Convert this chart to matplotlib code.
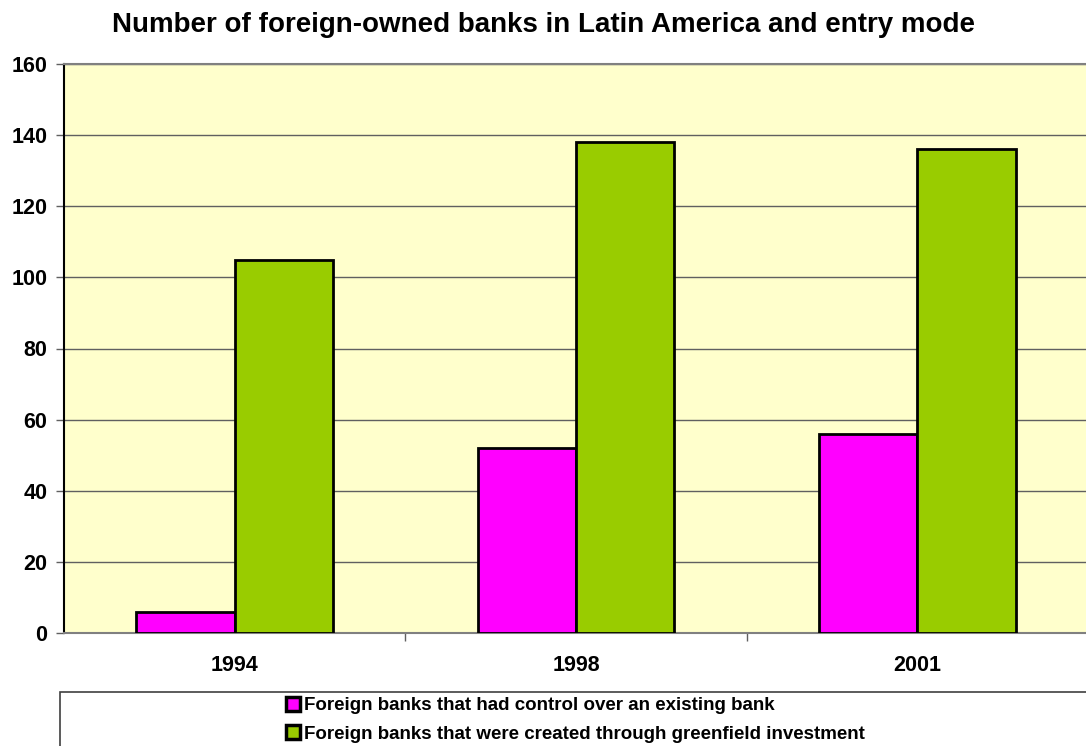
import matplotlib
matplotlib.use("Agg")
import matplotlib.pyplot as plt
import numpy as np
from matplotlib.patches import Rectangle

# ---------------------------------------------------------------------------
# Data
# ---------------------------------------------------------------------------
years = ["1994", "1998", "2001"]
control_existing = [6, 52, 56]
greenfield = [105, 138, 136]
series_labels = [
    "Foreign banks that had control over an existing bank",
    "Foreign banks that were created through greenfield investment",
]
y_ticks = [0, 20, 40, 60, 80, 100, 120, 140, 160]

plt.rcParams["font.family"] = ["Liberation Sans", "DejaVu Sans"]
plt.rcParams["font.weight"] = "bold"

fig = plt.figure(figsize=(10.86, 7.46), dpi=100)
ax = fig.add_axes([64 / 1086, 113 / 746, 1 - 64 / 1086 + 0.002, (633 - 64) / 746])
ax.set_facecolor("#FFFFCC")

x = np.arange(len(years))
width = 0.288
b1 = ax.bar(x - width / 2, control_existing, width=width, color="#FF00FF",
            edgecolor="black", linewidth=2.0, label=series_labels[0], zorder=3)
b2 = ax.bar(x + width / 2, greenfield, width=width, color="#99CC00",
            edgecolor="black", linewidth=2.0, label=series_labels[1], zorder=3)

ax.set_xlim(-0.5, len(years) - 0.5)
ax.set_ylim(0, 160)
ax.set_yticks(y_ticks)
ax.set_yticklabels([str(v) for v in y_ticks], fontsize=15.5, fontweight="bold")
ax.yaxis.grid(True, color="#606060", linewidth=1.0, zorder=0)
ax.set_axisbelow(True)

ax.set_xticks(x)
ax.set_xticklabels(years, fontsize=15.5, fontweight="bold")
ax.tick_params(axis="x", which="major", length=0, pad=16)
ax.set_xticks(np.arange(0.5, len(years) - 0.5, 1.0), minor=True)
ax.tick_params(axis="x", which="minor", length=6, color="#606060", width=1)
ax.tick_params(axis="y", length=6, width=1, color="#606060", pad=6)

ax.spines["top"].set_color("#808080")
ax.spines["top"].set_linewidth(1.5)
ax.spines["right"].set_visible(False)
ax.spines["left"].set_color("black")
ax.spines["left"].set_linewidth(1.5)
ax.spines["bottom"].set_color("#808080")
ax.spines["bottom"].set_linewidth(1.5)

fig.text(0.5, 1 - 25 / 746, "Number of foreign-owned banks in Latin America and entry mode",
         ha="center", va="center", fontsize=20, fontweight="bold")

# legend box
fig.patches.append(Rectangle((60 / 1086, -0.01), 1.0, (746 - 692) / 746 + 0.01,
                             transform=fig.transFigure, facecolor="white",
                             edgecolor="#404040", linewidth=1.2))
leg = fig.legend(handles=[b1, b2], loc="upper left",
                 bbox_to_anchor=(286 / 1086, 1 - 697 / 746), frameon=False,
                 fontsize=13.5, handlelength=0.75, handleheight=0.75,
                 handletextpad=0.2, labelspacing=0.58, borderaxespad=0,
                 borderpad=0)
for t in leg.get_texts():
    t.set_fontweight("bold")
for h in leg.legend_handles:
    h.set_linewidth(2.5)

fig.savefig("out.png", dpi=100)
